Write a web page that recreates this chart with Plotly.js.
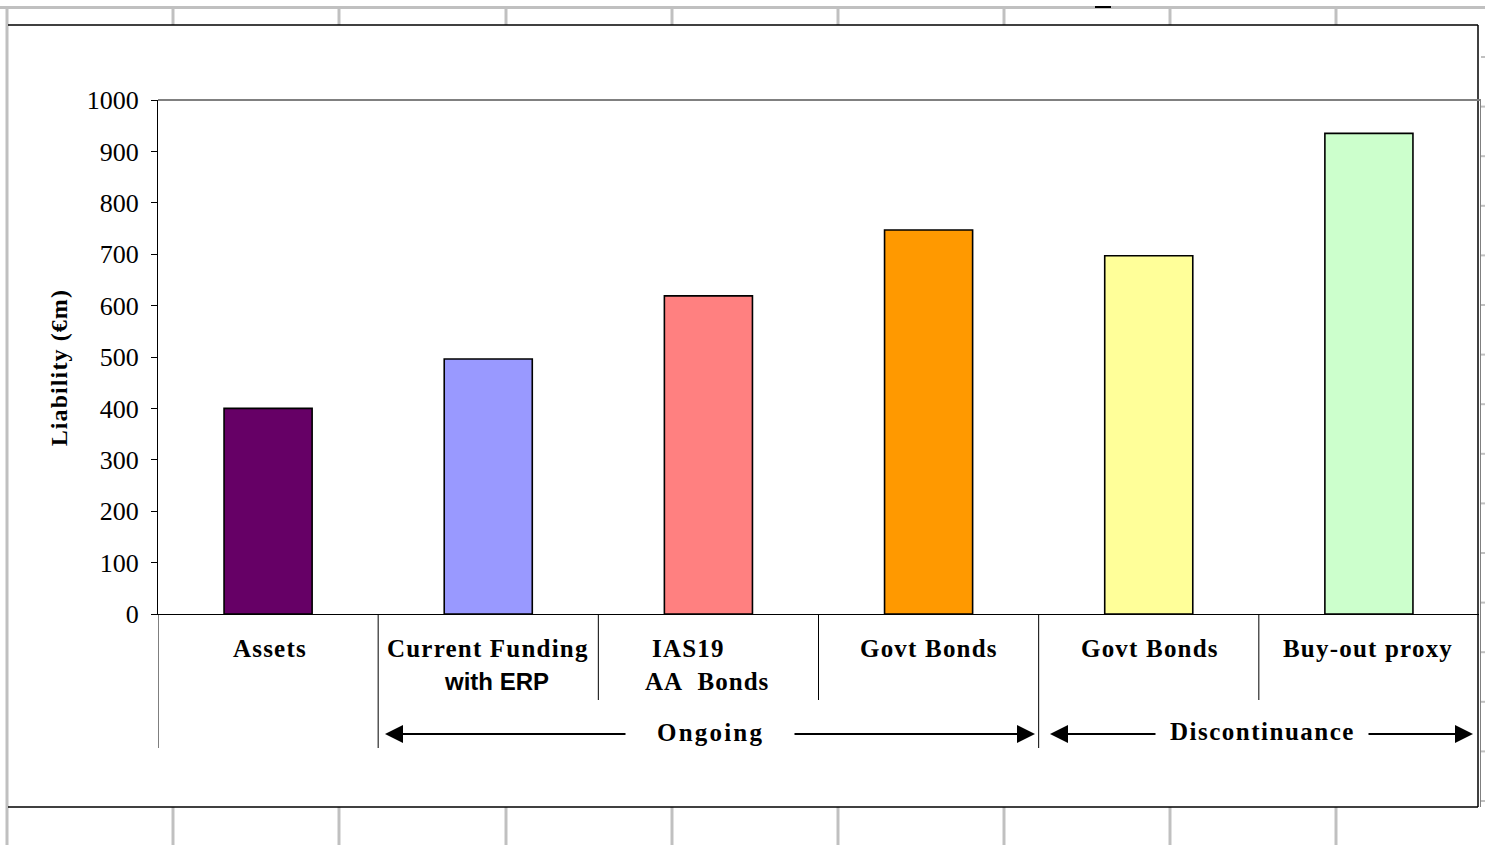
<!DOCTYPE html>
<html><head><meta charset="utf-8">
<script src="https://cdn.plot.ly/plotly-3.0.1.min.js"></script>
<style>html,body{margin:0;padding:0;background:#fff;overflow:hidden}</style>
</head><body><div id="chart" style="width:1485px;height:845px"></div>
<script>
// ---- data ----
const categories = ["Assets", "Current Funding with ERP", "IAS19 AA Bonds", "Govt Bonds (Ongoing)", "Govt Bonds (Discontinuance)", "Buy-out proxy"];
const liabilities = [400, 496, 619, 747, 697, 935];
const barColors = ["#660066", "#9999FF", "#FF8080", "#FF9900", "#FFFF99", "#CCFFCC"];
const yTickValues = [0, 100, 200, 300, 400, 500, 600, 700, 800, 900, 1000];
const yTitle = "Liability (€m)";
const labelLine1 = ["Assets", "Current Funding", "IAS19", "Govt Bonds", "Govt Bonds", "Buy-out proxy"];
const labelLine2 = ["", "with ERP", "AA\u00a0\u00a0Bonds", "", "", ""];
const groupNames = ["Ongoing", "Discontinuance"];

// ---- layout geometry (pixels) ----
const W = 1485, H = 845, L = 158, R = 1479, T = 100, B = 614;
const px = v => (v - L) / (R - L);
const py = v => (B - v) / (B - T);
const xIdx = categories.map((c, i) => i);

const serif = "Liberation Serif, Times New Roman, serif";
const sans = "Liberation Sans, Arial, sans-serif";

const trace = {
  type: "bar",
  x: xIdx,
  y: liabilities,
  width: 0.4,
  marker: { color: barColors, line: { color: "#000", width: 1.6 } },
  hoverinfo: "y",
  showlegend: false
};

const shapes = [];
const gray = "#c0c0c0";
// spreadsheet gridlines
shapes.push({ type: "line", xref: "paper", yref: "paper", x0: px(0), x1: px(W), y0: py(7.5), y1: py(7.5), line: { color: gray, width: 3 } });
const colLines = [7, 173, 339, 506, 672, 838, 1004, 1170, 1336];
colLines.forEach(c => {
  if (c === 7) {
    shapes.push({ type: "line", xref: "paper", yref: "paper", x0: px(c), x1: px(c), y0: py(7), y1: py(H), line: { color: gray, width: 3 } });
  } else {
    shapes.push({ type: "line", xref: "paper", yref: "paper", x0: px(c), x1: px(c), y0: py(7), y1: py(25), line: { color: gray, width: 3 } });
    shapes.push({ type: "line", xref: "paper", yref: "paper", x0: px(c), x1: px(c), y0: py(807), y1: py(H), line: { color: gray, width: 3 } });
  }
});
for (let r = 57; r < H; r += 49.6) {
  shapes.push({ type: "line", xref: "paper", yref: "paper", x0: px(1481), x1: px(1486), y0: py(r), y1: py(r), line: { color: gray, width: 2 } });
}
shapes.push({ type: "line", xref: "paper", yref: "paper", x0: px(1095), x1: px(1111), y0: py(7), y1: py(7), line: { color: "#000", width: 2 } });
// chart area border
shapes.push({ type: "line", xref: "paper", yref: "paper", x0: px(8), x1: px(1478), y0: py(25), y1: py(25), line: { color: "#000", width: 1.5 } });
shapes.push({ type: "line", xref: "paper", yref: "paper", x0: px(8), x1: px(1478), y0: py(807), y1: py(807), line: { color: "#000", width: 1.5 } });
shapes.push({ type: "line", xref: "paper", yref: "paper", x0: px(1478), x1: px(1478), y0: py(25), y1: py(807), line: { color: "#000", width: 1.5 } });
shapes.push({ type: "line", xref: "paper", yref: "paper", x0: px(1480.5), x1: px(1480.5), y0: py(100), y1: py(807), line: { color: "#808080", width: 1 } });
// plot area top border
shapes.push({ type: "line", xref: "paper", yref: "paper", x0: 0, x1: px(1481), y0: 1, y1: 1, line: { color: "#808080", width: 2 } });
// category dividers
const dividerBottom = [748, 748, 700, 700, 748, 700];
dividerBottom.forEach((b, i) => {
  shapes.push({ type: "line", xref: "x", yref: "paper", x0: i - 0.5, x1: i - 0.5, y0: 0, y1: py(b), line: { color: "#000", width: 1 } });
});

const annotations = [];
const labelShift = [2, 0, -20, 0, 1, -1];
const labelShift2 = [0, 8, -1, 0, 0, 0];
labelLine1.forEach((t, i) => {
  annotations.push({
    xref: "x", yref: "paper", x: xIdx[i], xshift: labelShift[i], y: py(648.5), yanchor: "middle", xanchor: "center",
    showarrow: false, text: `<span style="letter-spacing:1.2px">${t}</span>`,
    font: { family: serif, size: 25, color: "#000", weight: "bold" }
  });
  if (labelLine2[i]) {
    const isSans = i === 1;
    annotations.push({
      xref: "x", yref: "paper", x: xIdx[i], xshift: labelShift2[i], y: py(681.5), yanchor: "middle", xanchor: "center",
      showarrow: false, text: isSans ? labelLine2[i] : `<span style="letter-spacing:1px">${labelLine2[i]}</span>`,
      font: { family: isSans ? sans : serif, size: isSans ? 24 : 25, color: "#000", weight: "bold" }
    });
  }
});
// group labels
annotations.push({ xref: "paper", yref: "paper", x: px(710), y: py(732), xanchor: "center", yanchor: "middle", showarrow: false,
  text: `<span style="letter-spacing:2.2px">${groupNames[0]}</span>`, font: { family: serif, size: 25, color: "#000", weight: "bold" } });
annotations.push({ xref: "paper", yref: "paper", x: px(1262), y: py(731), xanchor: "center", yanchor: "middle", showarrow: false,
  text: `<span style="letter-spacing:1.5px">${groupNames[1]}</span>`, font: { family: serif, size: 25, color: "#000", weight: "bold" } });
// arrows [head, tail, y]
const arrows = [[385, 627, 734], [1035, 793, 734], [1050, 1157, 734], [1473, 1367, 734]];
arrows.forEach(a => {
  annotations.push({ xref: "paper", yref: "paper", x: px(a[0]), y: py(a[2]), axref: "pixel", ayref: "pixel",
    ax: a[1] - a[0], ay: 0, text: "", showarrow: true, arrowhead: 2, arrowsize: 1.8, arrowwidth: 2, arrowcolor: "#000", standoff: 0 });
});

const layout = {
  width: W, height: H,
  margin: { l: L, r: W - R, t: T, b: H - B, pad: 0 },
  paper_bgcolor: "#fff", plot_bgcolor: "#fff",
  bargap: 0.6,
  xaxis: { range: [-0.5, 5.5], showticklabels: false, ticks: "", showgrid: false, zeroline: false,
    showline: true, linecolor: "#000", linewidth: 1, fixedrange: true },
  yaxis: { range: [0, 1000], tickvals: yTickValues, ticks: "outside", ticklen: 6, tickwidth: 1, tickcolor: "#000",
    showline: true, linecolor: "#000", linewidth: 1, showgrid: false, zeroline: false,
    tickfont: { family: serif, size: 26, color: "#000" }, ticklabelstandoff: 7,
    title: { text: `<span style="letter-spacing:1.1px">${yTitle}\u00a0\u00a0\u00a0</span>`, standoff: 12,
      font: { family: serif, size: 24, color: "#000", weight: "bold" } } },
  shapes: shapes,
  annotations: annotations,
  showlegend: false
};

Plotly.newPlot("chart", [trace], layout, { displayModeBar: false, staticPlot: true });
</script></body></html>
